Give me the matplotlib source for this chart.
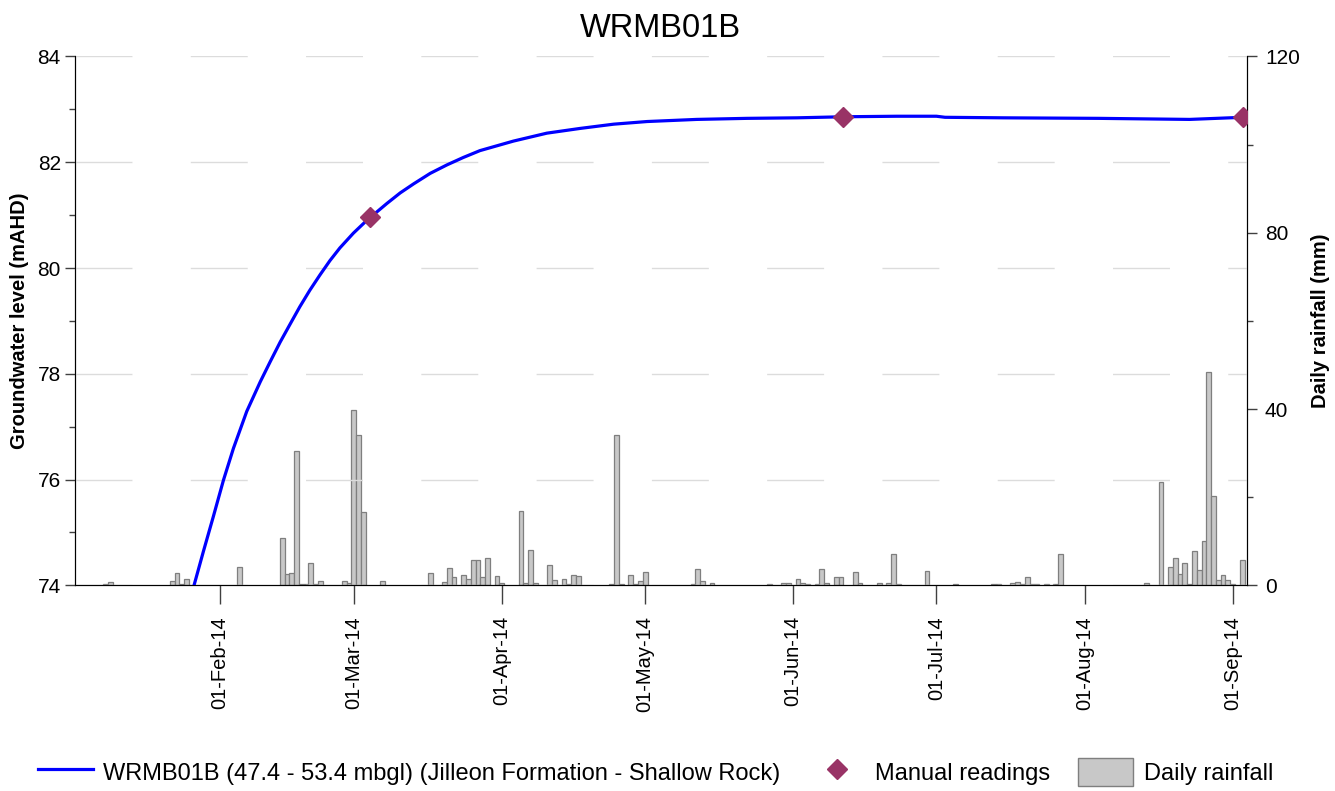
import pandas as pd
import matplotlib
matplotlib.use('Agg')
import matplotlib.pyplot as plt
import matplotlib.dates as mdates
from matplotlib.lines import Line2D
from matplotlib.patches import Patch
from matplotlib.ticker import MultipleLocator

plt.rcParams['font.family'] = ['Liberation Sans', 'DejaVu Sans']

# groundwater level (logger)
level_dates = ['2014-01-26 13:00', '2014-01-28 12:00', '2014-01-30 14:00', '2014-02-01 17:00',
               '2014-02-03 19:00', '2014-02-06 14:00', '2014-02-09 10:00', '2014-02-11 12:00',
               '2014-02-13 14:00', '2014-02-15 16:00', '2014-02-17 17:00', '2014-02-19 19:00',
               '2014-02-21 22:00', '2014-02-24 00:00', '2014-02-26 02:00', '2014-02-28 22:00',
               '2014-03-03 17:00', '2014-03-07 22:00', '2014-03-10 17:00', '2014-03-13 12:00',
               '2014-03-17 00:00', '2014-03-20 12:00', '2014-03-23 22:00', '2014-03-27 10:00',
               '2014-04-03 10:00', '2014-04-10 10:00', '2014-04-17 10:00', '2014-04-24 10:00',
               '2014-05-01 10:00', '2014-05-11 19:00', '2014-05-22 07:00', '2014-06-01 19:00',
               '2014-06-11 12:00', '2014-06-22 17:00', '2014-07-01 00:00', '2014-07-02 19:00',
               '2014-07-15 00:00', '2014-08-04 00:00', '2014-08-23 00:00', '2014-09-03 05:00']
level_vals = [74.0, 74.64, 75.30, 75.99,
              76.59, 77.29, 77.85, 78.23,
              78.60, 78.94, 79.27, 79.58,
              79.87, 80.14, 80.38, 80.66,
              80.90, 81.22, 81.42, 81.59,
              81.79, 81.95, 82.09, 82.22,
              82.40, 82.55, 82.64, 82.72,
              82.77, 82.81, 82.83, 82.84,
              82.86, 82.87, 82.87, 82.85,
              82.84, 82.83, 82.81, 82.85]

manual_dates = ['2014-03-04 09:00', '2014-06-11 12:00', '2014-09-03 05:00']
manual_vals = [80.97, 82.86, 82.86]

rain_dates = ['2014-01-08', '2014-01-09', '2014-01-22', '2014-01-23', '2014-01-24', '2014-01-25',
              '2014-02-05', '2014-02-14', '2014-02-15', '2014-02-16', '2014-02-17', '2014-02-18',
              '2014-02-19', '2014-02-20', '2014-02-21', '2014-02-22', '2014-02-27', '2014-02-28',
              '2014-03-01', '2014-03-02', '2014-03-03', '2014-03-07', '2014-03-17', '2014-03-20',
              '2014-03-21', '2014-03-22', '2014-03-24', '2014-03-25', '2014-03-26', '2014-03-27',
              '2014-03-28', '2014-03-29', '2014-03-31', '2014-04-01', '2014-04-05', '2014-04-06',
              '2014-04-07', '2014-04-08', '2014-04-11', '2014-04-12', '2014-04-14', '2014-04-15',
              '2014-04-16', '2014-04-17', '2014-04-24', '2014-04-25', '2014-04-26', '2014-04-28',
              '2014-04-29', '2014-04-30', '2014-05-01', '2014-05-11', '2014-05-12', '2014-05-13',
              '2014-05-15', '2014-05-27', '2014-05-30', '2014-05-31', '2014-06-02', '2014-06-03',
              '2014-06-04', '2014-06-06', '2014-06-07', '2014-06-08', '2014-06-10', '2014-06-11',
              '2014-06-14', '2014-06-15', '2014-06-19', '2014-06-21', '2014-06-22', '2014-06-23',
              '2014-06-29', '2014-07-05', '2014-07-13', '2014-07-14', '2014-07-17', '2014-07-18',
              '2014-07-19', '2014-07-20', '2014-07-21', '2014-07-22', '2014-07-24', '2014-07-26',
              '2014-07-27', '2014-08-14', '2014-08-17', '2014-08-19', '2014-08-20', '2014-08-21',
              '2014-08-22', '2014-08-23', '2014-08-24', '2014-08-25', '2014-08-26', '2014-08-27',
              '2014-08-28', '2014-08-29', '2014-08-30', '2014-08-31', '2014-09-01', '2014-09-03']
rain_vals = [0.2, 0.8, 1.0, 2.9, 0.4, 1.5,
             4.1, 10.8, 2.5, 2.9, 30.5, 0.3,
             0.3, 5.1, 0.3, 0.9, 1.0, 0.45,
             39.7, 34.1, 16.7, 1.0, 2.9, 0.8,
             4.0, 2.0, 2.4, 1.4, 5.8, 5.8,
             1.9, 6.1, 2.1, 0.6, 16.8, 0.6,
             8.0, 0.6, 4.7, 1.3, 1.4, 0.3,
             2.4, 2.1, 0.3, 34.2, 0.3, 2.4,
             0.3, 1.0, 3.0, 0.3, 3.6, 1.0,
             0.45, 0.3, 0.6, 0.45, 1.5, 0.6,
             0.3, 0.3, 3.6, 0.45, 2.0, 2.0,
             3.0, 0.6, 0.6, 0.45, 7.0, 0.3,
             3.2, 0.3, 0.3, 0.3, 0.45, 0.8,
             0.3, 2.0, 0.3, 0.3, 0.3, 0.3,
             7.2, 0.45, 23.4, 4.2, 6.2, 2.5,
             5.0, 0.3, 7.9, 3.4, 10.0, 48.3,
             20.2, 1.3, 2.4, 1.3, 0.3, 5.8]

month_ticks = ['2014-02-01', '2014-03-01', '2014-04-01', '2014-05-01',
               '2014-06-01', '2014-07-01', '2014-08-01', '2014-09-01']

series_label = 'WRMB01B (47.4 - 53.4 mbgl) (Jilleon Formation - Shallow Rock)'

fig = plt.figure(figsize=(13.35, 7.91), dpi=100)
ax = fig.add_axes([0.056, 0.26, 0.878, 0.6686])
ax2 = ax.twinx()

# rainfall behind the groundwater line
ax2.set_zorder(1)
ax.set_zorder(2)
ax.patch.set_visible(False)

ax2.bar(pd.to_datetime(rain_dates), rain_vals, width=1.0, color='#c8c8c8',
        edgecolor='#7f7f7f', linewidth=0.9)
ax2.set_ylim(0, 120)
ax2.yaxis.set_major_locator(MultipleLocator(40))
ax2.yaxis.set_minor_locator(MultipleLocator(20))
ax2.set_ylabel('Daily rainfall (mm)', fontsize=14.5, fontweight='bold', labelpad=8)

ax.plot(pd.to_datetime(level_dates), level_vals, color='#0000ff', lw=2.3, zorder=3,
        solid_joinstyle='round')
ax.plot(pd.to_datetime(manual_dates), manual_vals, linestyle='none', marker='D',
        markersize=10, color='#993366', zorder=4)

ax.set_ylim(74, 84)
ax.yaxis.set_major_locator(MultipleLocator(2))
ax.yaxis.set_minor_locator(MultipleLocator(1))
ax.set_xlim(pd.Timestamp('2014-01-01 13:40'), pd.Timestamp('2014-09-04'))
ax.set_xticks(pd.to_datetime(month_ticks))
ax.xaxis.set_major_formatter(mdates.DateFormatter('%d-%b-%y'))
ax.set_ylabel('Groundwater level (mAHD)', fontsize=14.5, fontweight='bold', labelpad=6)
ax.set_title('WRMB01B', fontsize=23.5, pad=14)

ax.grid(axis='y', color='#dcdcdc', lw=1.0, linestyle=(0, (41, 42)))
ax.set_axisbelow(True)

for a in (ax, ax2):
    a.spines['top'].set_visible(False)
ax.tick_params(axis='x', which='major', length=14, width=1, color='#404040',
               labelsize=14.5, rotation=90, pad=8)
ax.tick_params(axis='y', which='major', length=7, width=1, color='#404040', labelsize=15, pad=3)
ax.tick_params(axis='y', which='minor', length=4, width=1, color='#404040')
ax2.tick_params(axis='y', which='major', length=7, width=1, color='#404040', labelsize=15, pad=6)
ax2.tick_params(axis='y', which='minor', length=4, width=1, color='#404040')

handles = [Line2D([], [], color='#0000ff', lw=2.3),
           Line2D([], [], linestyle='none', marker='D', markersize=10, color='#993366'),
           Patch(facecolor='#c8c8c8', edgecolor='#7f7f7f')]
fig.legend(handles, [series_label, 'Manual readings', 'Daily rainfall'],
           loc='center', bbox_to_anchor=(0.491, 0.024), ncol=3, frameon=False,
           fontsize=17, handlelength=2.33, handleheight=1.5, columnspacing=1.2,
           handletextpad=0.45)

fig.savefig('out.png', dpi=100)
